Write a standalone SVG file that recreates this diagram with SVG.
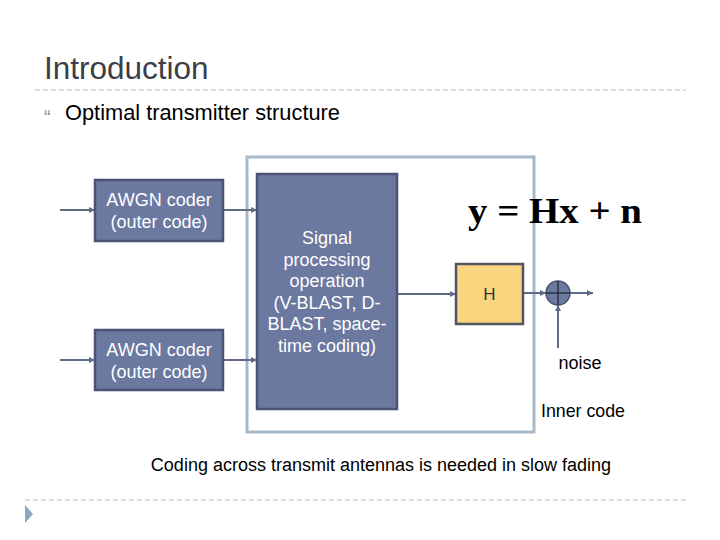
<svg xmlns="http://www.w3.org/2000/svg" width="720" height="540" viewBox="0 0 720 540">
<defs>
<style>
.sans{font-family:"Liberation Sans",Arial,sans-serif}
.blk{fill:#6b789f;stroke:#4a5373;stroke-width:2.5}
.wt{fill:#ffffff;font-size:18px;text-anchor:middle}
.ln{stroke:#5f6a86;stroke-width:2;fill:none}
.dash{stroke:#b9bec6;stroke-width:1;stroke-dasharray:5 3;fill:none}
</style>
<marker id="ah" viewBox="0 0 6 6" refX="6" refY="3" markerWidth="3" markerHeight="3" orient="auto"><path d="M0,0 L6,3 L0,6 Z" fill="#5f6a86"/></marker>
</defs>
<rect width="720" height="540" fill="#ffffff"/>
<text x="44" y="79" class="sans" font-size="31.5" fill="#3d3d45">Introduction</text>
<line x1="35" y1="90" x2="686" y2="90" class="dash"/>
<text x="44" y="124" class="sans" font-size="20" fill="#8a95a8">“</text>
<text x="65" y="120" class="sans" font-size="21.8" fill="#000">Optimal transmitter structure</text>
<rect x="247" y="157" width="287" height="275" fill="none" stroke="#a7b9c9" stroke-width="3"/>
<g id="connectors">
<line x1="60" y1="210" x2="95" y2="210" class="ln" marker-end="url(#ah)"/>
<line x1="60" y1="360" x2="95" y2="360" class="ln" marker-end="url(#ah)"/>
<line x1="223" y1="210" x2="257" y2="210" class="ln" marker-end="url(#ah)"/>
<line x1="223" y1="360" x2="257" y2="360" class="ln" marker-end="url(#ah)"/>
<line x1="397" y1="294" x2="456" y2="294" class="ln" marker-end="url(#ah)"/>
<line x1="523" y1="293" x2="546" y2="293" class="ln" marker-end="url(#ah)"/>
<line x1="570" y1="293" x2="593" y2="293" class="ln" marker-end="url(#ah)"/>
<line x1="558" y1="348" x2="558" y2="305" class="ln" marker-end="url(#ah)"/>
</g>
<g id="coder1">
<rect x="95" y="180" width="128" height="61" class="blk"/>
<text x="159" y="206" class="sans wt">AWGN coder</text>
<text x="159" y="228" class="sans wt">(outer code)</text>
</g>
<g id="coder2">
<rect x="95" y="330" width="128" height="60" class="blk"/>
<text x="159" y="356" class="sans wt">AWGN coder</text>
<text x="159" y="378" class="sans wt">(outer code)</text>
</g>
<g id="signal">
<rect x="257" y="174" width="140" height="235" class="blk"/>
<text class="sans wt"><tspan x="327" y="244">Signal</tspan><tspan x="327" y="265.5">processing</tspan><tspan x="327" y="287">operation</tspan><tspan x="327" y="308.5">(V-BLAST, D-</tspan><tspan x="327" y="330">BLAST, space-</tspan><tspan x="327" y="351.5">time coding)</tspan></text>
</g>
<g id="H">
<rect x="456" y="264" width="67" height="60" fill="#f8d57e" stroke="#4f5562" stroke-width="2.5"/>
<text x="489.5" y="300" class="sans" font-size="17" fill="#333" text-anchor="middle">H</text>
</g>
<g id="sum">
<circle cx="558" cy="293" r="12" fill="#6b789f" stroke="#4a5373" stroke-width="1.5"/>
<line x1="546" y1="293" x2="570" y2="293" stroke="#1f2433" stroke-width="1.2"/>
<line x1="558" y1="281" x2="558" y2="305" stroke="#1f2433" stroke-width="1.2"/>
</g>
<text x="468" y="223" font-family="'Liberation Serif','Times New Roman',serif" font-weight="bold" font-size="36" fill="#000" textLength="174" lengthAdjust="spacingAndGlyphs">y = Hx + n</text>
<text x="580" y="369" class="sans" font-size="18" fill="#000" text-anchor="middle">noise</text>
<text x="583" y="417" class="sans" font-size="17.8" fill="#000" text-anchor="middle">Inner code</text>
<text x="381" y="471" class="sans" font-size="18" fill="#000" text-anchor="middle">Coding across transmit antennas is needed in slow fading</text>
<line x1="25" y1="500" x2="688" y2="500" class="dash"/>
<path d="M25,505 L33,514 L25,523 Z" fill="#8fa5bf"/>
</svg>
